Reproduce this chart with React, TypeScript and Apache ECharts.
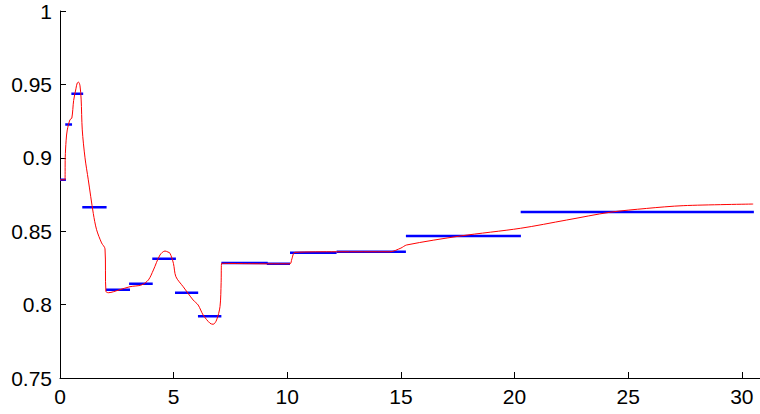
import React, { useEffect, useRef } from "react";
import * as echarts from "echarts";

const curveX = [0, 0.22, 0.23, 0.27, 0.32, 0.44, 0.52, 0.6, 0.7, 0.76, 0.82, 0.88, 0.93, 0.98, 1.1, 1.245, 1.466, 1.61, 1.83, 1.98, 2.02, 2.13, 2.6, 3.08, 3.59, 3.89, 4.11, 4.4, 4.62, 4.75, 4.84, 4.99, 5.1, 5.42, 5.86, 6.08, 6.3, 6.6, 6.74, 6.89, 7.04, 7.09, 7.11, 9.15, 10.12, 10.2, 10.34, 12.17, 14.52, 15.0, 15.25, 17.6, 20.27, 22.29, 24.2, 25.8, 27.42, 30.5];
const curveY = [0.885, 0.885, 0.9, 0.912, 0.919, 0.926, 0.927, 0.939, 0.947, 0.951, 0.9515, 0.949, 0.94, 0.919, 0.9, 0.885, 0.862, 0.851, 0.842, 0.838, 0.809, 0.8081, 0.81, 0.8122, 0.8134, 0.8168, 0.8236, 0.8338, 0.8365, 0.8358, 0.835, 0.8281, 0.819, 0.8122, 0.8031, 0.7997, 0.7929, 0.7873, 0.7866, 0.7895, 0.7986, 0.815, 0.8281, 0.8278, 0.8278, 0.831, 0.8356, 0.836, 0.836, 0.8385, 0.8406, 0.8467, 0.852, 0.8576, 0.8629, 0.8655, 0.8674, 0.8685];

const segStart = [0, 0.23, 0.5, 0.98, 2.02, 3.04, 4.06, 5.06, 6.07, 7.1, 9.1, 10.12, 12.17, 15.22, 20.27];
const segEnd = [0.26, 0.53, 1.02, 2.05, 3.08, 4.08, 5.1, 6.08, 7.1, 9.14, 10.12, 12.17, 15.22, 20.28, 30.53];
const segMean = [0.885, 0.9226, 0.9437, 0.8663, 0.8102, 0.8142, 0.8313, 0.808, 0.792, 0.8283, 0.8278, 0.8354, 0.836, 0.8467, 0.8631];

const xMin = 0;
const xMax = 30.8;
const xInterval = 5;
const yMin = 0.75;
const yMax = 1;
const yInterval = 0.05;

export default function App() {
  const ref = useRef<HTMLDivElement>(null);
  useEffect(() => {
    if (!ref.current) return;
    const chart = echarts.init(ref.current, undefined, { renderer: "svg" });
    const font = { fontFamily: "Liberation Sans, Arial, sans-serif", fontSize: 21, color: "#000" };
    const blueSeries = segStart.map((s, i) => ({
      type: "line",
      data: [
        [s, segMean[i]],
        [segEnd[i], segMean[i]],
      ],
      showSymbol: false,
      symbol: "none",
      lineStyle: { color: "#0000ff", width: 2.5 },
      z: 2,
    }));
    chart.setOption({
      animation: false,
      grid: { left: 60, right: 0, top: 11, bottom: 36, containLabel: false },
      xAxis: {
        type: "value",
        min: xMin,
        max: xMax,
        interval: xInterval,
        axisLine: { show: true, lineStyle: { color: "#000", width: 1 } },
        axisTick: { show: true, inside: true, length: 6, lineStyle: { color: "#000" } },
        axisLabel: { ...font, margin: 8, showMaxLabel: false },
        splitLine: { show: false },
      },
      yAxis: {
        type: "value",
        min: yMin,
        max: yMax,
        interval: yInterval,
        axisLine: { show: true, lineStyle: { color: "#000", width: 1 } },
        axisTick: { show: true, inside: true, length: 6, lineStyle: { color: "#000" } },
        axisLabel: { ...font, margin: 8 },
        splitLine: { show: false },
      },
      series: [
        ...blueSeries,
        {
          type: "line",
          data: curveX.map((x, i) => [x, curveY[i]]),
          showSymbol: false,
          symbol: "none",
          smooth: 0.3,
          lineStyle: { color: "#ff0000", width: 1 },
          z: 3,
        },
      ],
    });
    return () => chart.dispose();
  }, []);
  return <div ref={ref} style={{ width: 760, height: 414, position: "absolute", left: 0, top: 0 }} />;
}
